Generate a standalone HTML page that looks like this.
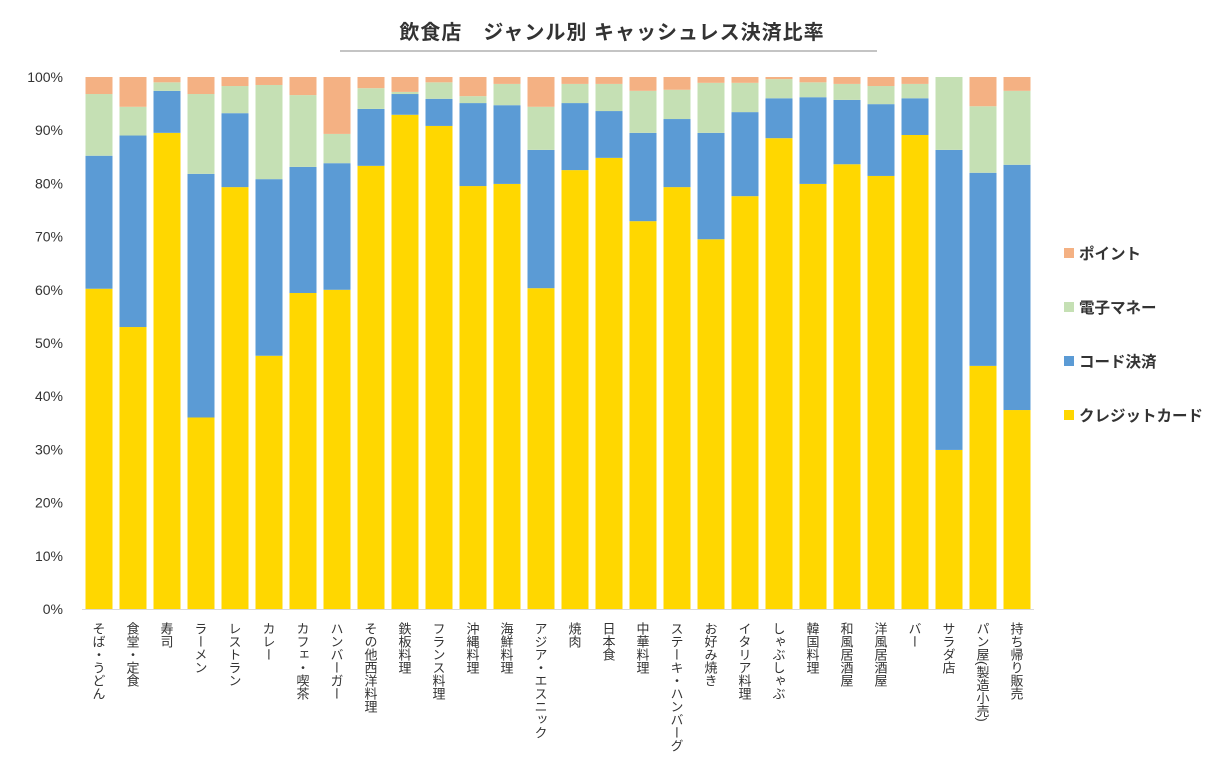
<!DOCTYPE html>
<html><head><meta charset="utf-8">
<style>
body{margin:0;background:#fff;font-family:"Liberation Sans","Noto Sans CJK JP",sans-serif;}
svg text{font-family:"Liberation Sans","Noto Sans CJK JP",sans-serif;}
</style></head>
<body>
<svg id="chart" width="1226" height="776">
<text x="612" y="39" text-anchor="middle" font-size="20" font-weight="bold" fill="#333" letter-spacing="1">飲食店　ジャンル別 キャッシュレス決済比率</text>
<line x1="340" y1="51" x2="877" y2="51" stroke="#888" stroke-width="1"/>
<g id="bars"></g><g id="axis"></g><g id="legend"></g>
</svg>
<script>
const categories=["そば・うどん","食堂・定食","寿司","ラーメン","レストラン","カレー","カフェ・喫茶","ハンバーガー","その他西洋料理","鉄板料理","フランス料理","沖縄料理","海鮮料理","アジア・エスニック","焼肉","日本食","中華料理","ステーキ・ハンバーグ","お好み焼き","イタリア料理","しゃぶしゃぶ","韓国料理","和風居酒屋","洋風居酒屋","バー","サラダ店","パン屋(製造小売)","持ち帰り販売"];
const credit=[60.2,53,89.5,36,79.3,47.6,59.4,60,83.3,92.9,90.8,79.5,79.9,60.3,82.5,84.8,72.9,79.3,69.5,77.6,88.5,79.9,83.6,81.4,89.1,29.9,45.7,37.4];
const code=[25,36,7.9,45.8,13.9,33.2,23.7,23.8,10.7,3.9,5.1,15.6,14.8,26,12.6,8.8,16.6,12.8,20,15.8,7.5,16.3,12.1,13.5,6.9,56.4,36.3,46.1];
const emoney=[11.6,5.4,1.6,15,5.1,17.7,13.5,5.5,3.9,0.4,3.1,1.3,4,8.1,3.6,5.1,7.9,5.5,9.4,5.5,3.6,2.8,3,3.4,2.7,13.7,12.5,13.9];
const point=[3.2,5.6,1,3.2,1.7,1.5,3.4,10.7,2.1,2.8,1,3.6,1.3,5.6,1.3,1.3,2.6,2.4,1.1,1.1,0.4,1,1.3,1.7,1.3,0,5.5,2.6];
const yTicks=[0,10,20,30,40,50,60,70,80,90,100];
const seriesNames=["クレジットカード","コード決済","電子マネー","ポイント"];
const colors=["#FFD700","#5B9BD5","#C5E0B4","#F4B183"];
const X0=82,X1=1034,Y0=609,Y100=77;
const n=categories.length,step=(X1-X0)/n,bw=27;
const y=v=>Y0-(Y0-Y100)*v/100;
const xc=i=>X0+step*(i+0.5);
const NS="http://www.w3.org/2000/svg";
function mk(t,a,p){const e=document.createElementNS(NS,t);for(const k in a)e.setAttribute(k,a[k]);p.appendChild(e);return e;}
const bars=document.getElementById('bars'),axis=document.getElementById('axis'),leg=document.getElementById('legend');
const series=[credit,code,emoney,point];
for(let i=0;i<n;i++){
  let acc=0;
  series.forEach((s,k)=>{
    const v=s[i];
    const r=mk('rect',{x:xc(i)-bw/2,y:y(acc+v),width:bw,height:Math.max(0,y(acc)-y(acc+v)),fill:colors[k]},bars);
    
    
    acc+=v;
  });
  const t=mk('text',{x:xc(i)-1,y:622,'font-size':13,fill:'#333','writing-mode':'vertical-rl','glyph-orientation-vertical':0},axis);
  t.textContent=categories[i];
  
  
}
const bl=mk('line',{x1:X0,x2:X1,y1:Y0+0.5,y2:Y0+0.5,stroke:'#d9d9d9'},axis);


yTicks.forEach(v=>{
  const t=mk('text',{x:63,y:y(v)+5,'text-anchor':'end','font-size':14,fill:'#333'},axis);
  t.textContent=v+'%';
  
  
});
const legY=[415,361,307,253];
seriesNames.forEach((nm,k)=>{
  const r=mk('rect',{x:1064,y:legY[k]-5,width:10,height:10,fill:colors[k]},leg);
  
  
  const t=mk('text',{x:1079,y:legY[k]+6,'font-size':15.5,'font-weight':'bold',fill:'#333'},leg);
  t.textContent=nm;
  
  
});
</script>
</body></html>
